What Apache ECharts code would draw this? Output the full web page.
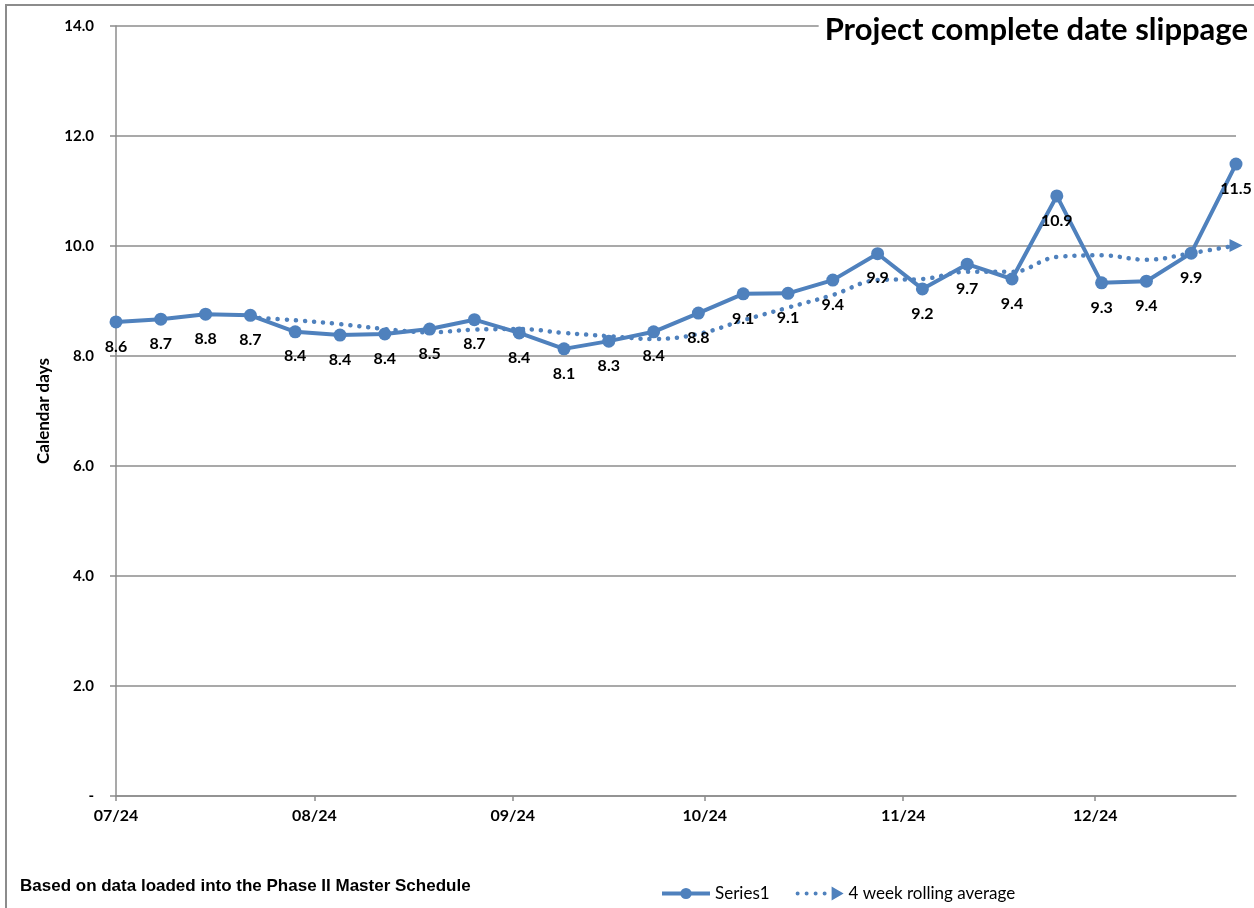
<!DOCTYPE html>
<html>
<head>
<meta charset="utf-8">
<script src="https://cdn.jsdelivr.net/npm/echarts@6/dist/echarts.min.js"></script>
<style>
  html, body { margin: 0; padding: 0; background: #fff; }
  #frame { position: absolute; left: 5px; top: 4px; width: 1400px; height: 1000px; border: 2px solid #8c8c8c; }
  #main { position: absolute; left: 0; top: 0; width: 1254px; height: 908px; }
</style>
</head>
<body>
<div id="frame"></div>
<div id="main"></div>
<script>
  // weekly snapshot dates
  var weeks = ['2024-07-01','2024-07-08','2024-07-15','2024-07-22','2024-07-29',
    '2024-08-05','2024-08-12','2024-08-19','2024-08-26','2024-09-02','2024-09-09',
    '2024-09-16','2024-09-23','2024-09-30','2024-10-07','2024-10-14','2024-10-21',
    '2024-10-28','2024-11-04','2024-11-11','2024-11-18','2024-11-25','2024-12-02',
    '2024-12-09','2024-12-16','2024-12-23'];
  // calendar days of slippage
  var slippage = [8.62, 8.67, 8.76, 8.74, 8.44, 8.38, 8.40, 8.49, 8.66, 8.42, 8.13,
    8.27, 8.44, 8.78, 9.13, 9.14, 9.38, 9.86, 9.22, 9.67, 9.40, 10.91, 9.33, 9.36,
    9.87, 11.49];
  // 4 week rolling average (starts at week 4)
  var rolling = [null, null, null, 8.70, 8.65, 8.58, 8.49, 8.43, 8.48, 8.49, 8.42,
    8.36, 8.31, 8.40, 8.65, 8.88, 9.11, 9.38, 9.40, 9.53, 9.53, 9.80, 9.83, 9.75,
    9.87, 10.01];
  var yTicks = [0, 2, 4, 6, 8, 10, 12, 14];

  var blue = '#4f81bd';
  // dotted line with arrow head, for the legend
  var dotArrowIcon = 'path://M0,7a2,2 0 1,0 4,0a2,2 0 1,0 -4,0' +
    'M9,7a2,2 0 1,0 4,0a2,2 0 1,0 -4,0' +
    'M18,7a2,2 0 1,0 4,0a2,2 0 1,0 -4,0' +
    'M27,7a2,2 0 1,0 4,0a2,2 0 1,0 -4,0' +
    'M36,0L48,7L36,14Z';

  var myChart = echarts.init(document.getElementById('main'));

  var series1Data = weeks.map(function (d, i) { return [d, slippage[i]]; });
  var rollingData = weeks.map(function (d, i) {
    if (rolling[i] == null) return [d, null];
    // only the last point gets the arrow head
    if (i === weeks.length - 1) return [d, rolling[i]];
    return { value: [d, rolling[i]], symbol: 'none' };
  });

  var option = {
    animation: false,
    title: [
      {
        text: 'Project complete date slippage',
        right: 4,
        top: 12,
        backgroundColor: '#fff',
        padding: [2, 2, 2, 6],
        textStyle: { fontFamily: 'Lato', fontWeight: 'bold', fontSize: 31, color: '#000' }
      },
      {
        text: 'Based on data loaded into the Phase II Master Schedule',
        left: 20,
        top: 878,
        padding: 0,
        textStyle: { fontFamily: 'Liberation Sans', fontWeight: 'bold', fontSize: 17, color: '#000' }
      }
    ],
    legend: {
      left: 655,
      top: 880,
      itemWidth: 48,
      itemHeight: 14,
      itemGap: 26,
      textStyle: { fontFamily: 'Lato', fontSize: 17, color: '#000' },
      data: [
        { name: 'Series1', lineStyle: { width: 4 } },
        { name: '4 week rolling average', icon: dotArrowIcon }
      ]
    },
    grid: { left: 116, right: 18, top: 26, bottom: 112 },
    xAxis: {
      type: 'time',
      min: weeks[0],
      max: weeks[weeks.length - 1],
      splitNumber: 6,
      axisLine: { lineStyle: { color: '#8c8c8c', width: 1.5 } },
      axisTick: { show: true, length: 5, lineStyle: { color: '#8c8c8c', width: 1.5 } },
      splitLine: { show: false },
      axisLabel: {
        margin: 12,
        fontFamily: 'Lato', fontWeight: 'bold', fontSize: 16, color: '#000',
        formatter: function (val) {
          var d = new Date(val);
          var m = d.getMonth() + 1;
          return (m < 10 ? '0' + m : m) + '/' + String(d.getFullYear()).slice(2);
        }
      }
    },
    yAxis: {
      type: 'value',
      min: yTicks[0],
      max: yTicks[yTicks.length - 1],
      interval: 2,
      name: 'Calendar days',
      nameLocation: 'middle',
      nameGap: 64,
      nameTextStyle: { fontFamily: 'Lato', fontWeight: 'bold', fontSize: 17, color: '#000' },
      axisLine: { show: true, lineStyle: { color: '#8c8c8c', width: 1.5 } },
      axisTick: { show: true, length: 6, lineStyle: { color: '#8c8c8c', width: 1.5 } },
      splitLine: { lineStyle: { color: '#8c8c8c', width: 1.5 } },
      axisLabel: {
        margin: 22,
        fontFamily: 'Lato', fontWeight: 'bold', fontSize: 15, color: '#000',
        formatter: function (v) { return v === 0 ? '-' : v.toFixed(1); }
      }
    },
    series: [
      {
        name: '4 week rolling average',
        type: 'line',
        z: 2,
        smooth: 0.4,
        connectNulls: false,
        data: rollingData,
        symbol: 'triangle',
        symbolRotate: -90,
        symbolSize: 13,
        itemStyle: { color: blue },
        lineStyle: { color: blue, width: 4.5, type: [0.1, 9], cap: 'round' }
      },
      {
        name: 'Series1',
        type: 'line',
        z: 3,
        data: series1Data,
        symbol: 'circle',
        symbolSize: 13,
        itemStyle: { color: blue },
        lineStyle: { color: blue, width: 4 },
        label: {
          show: true,
          position: 'bottom',
          distance: 10,
          fontFamily: 'Lato', fontWeight: 'bold', fontSize: 16, color: '#000',
          formatter: function (p) { return p.value[1].toFixed(1); }
        }
      }
    ]
  };
  myChart.setOption(option);
</script>
</body>
</html>
